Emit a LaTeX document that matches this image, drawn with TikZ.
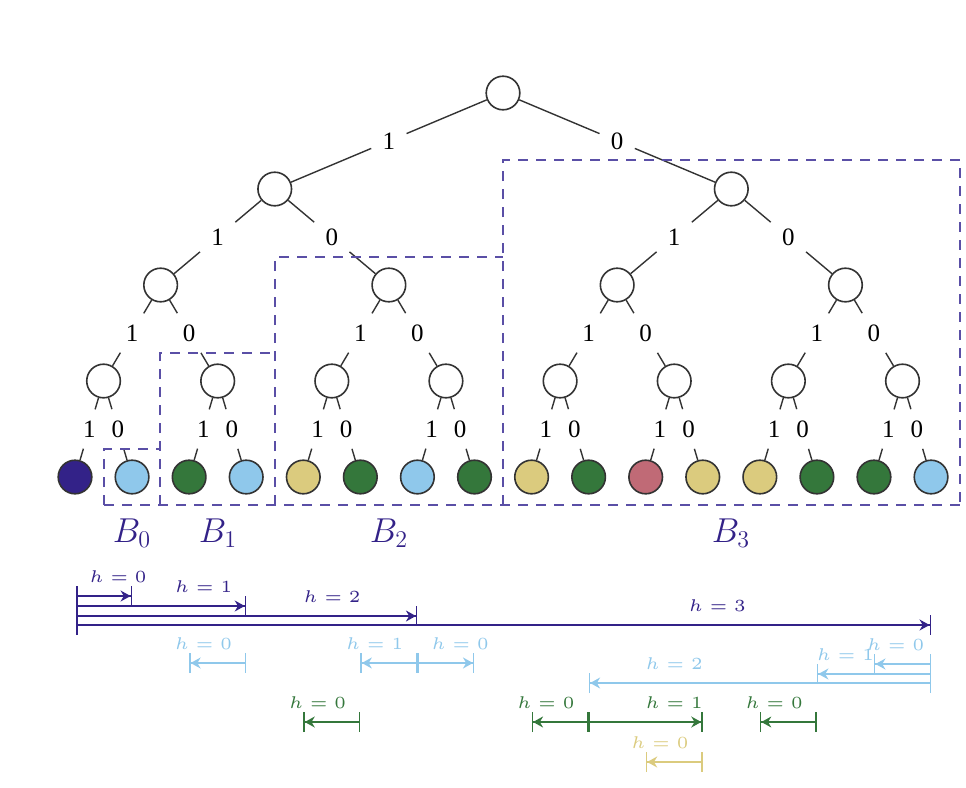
\documentclass[tikz,border=0pt]{standalone}
\usepackage{fontspec}
\newfontfamily\digitfont{Liberation Serif}
\usetikzlibrary{arrows.meta,calc}
\definecolor{cindigo}{HTML}{332288}
\definecolor{ccyan}{HTML}{8FC8EB}
\definecolor{cgreen}{HTML}{34773B}
\definecolor{csand}{HTML}{DBCB7E}
\definecolor{crose}{HTML}{C06A76}
\definecolor{cbox}{HTML}{5A4FA6}
\definecolor{cline}{HTML}{333333}
\begin{document}
\begin{tikzpicture}[x=0.5pt,y=-0.5pt,
  tnode/.style={circle,draw=cline,line width=0.8pt,minimum size=16.8pt,inner sep=0pt,fill=white},
  leafnode/.style={tnode,fill=#1},
  elabel/.style={inner sep=5.5pt,font=\digitfont\fontsize{12.5}{15}\selectfont},
  tedge/.style={line width=0.7pt,draw=cline},
  region/.style={draw=cbox,line width=0.75pt,dash pattern=on 5pt off 4pt},
  blabel/.style={text=cindigo,font=\fontsize{16.5}{19}\selectfont},
  harr/.style={line width=0.75pt,draw=#1,{Bar[width=10pt]}-{Stealth[length=5pt,width=5.5pt]Bar[width=10pt]}},
  hlab/.style={text=#1,font=\fontsize{5}{6}\selectfont,scale=1.7,inner sep=0pt},
]
\useasboundingbox (0,0) rectangle (966,788);

% internal tree nodes
\foreach \lv in {0,1,2,3} {
  \pgfmathtruncatemacro\mycnt{2^\lv-1}
  \pgfmathsetmacro\spn{16/2^\lv}
  \pgfmathsetmacro\yy{93+96*\lv}
  \foreach \kk in {0,...,\mycnt} {
    \pgfmathsetmacro\xx{75+57.07*(\kk*\spn+(\spn-1)/2)}
    \node[tnode] (v\lv-\kk) at (\xx,\yy) {};
  }
}
% leaves
\foreach \kk/\cc in {0/cindigo,1/ccyan,2/cgreen,3/ccyan,4/csand,5/cgreen,6/ccyan,7/cgreen,
                     8/csand,9/cgreen,10/crose,11/csand,12/csand,13/cgreen,14/cgreen,15/ccyan} {
  \node[leafnode=\cc] (v4-\kk) at (75+57.07*\kk,477) {};
}
% edges with labels
\foreach \lv in {0,1,2,3} {
  \pgfmathtruncatemacro\mycnt{2^\lv-1}
  \pgfmathtruncatemacro\nx{\lv+1}
  \foreach \kk in {0,...,\mycnt} {
    \pgfmathtruncatemacro\ca{2*\kk}
    \pgfmathtruncatemacro\cb{2*\kk+1}
    \node[elabel] (e\nx-\ca) at ($(v\lv-\kk)!0.5!(v\nx-\ca)$) {1};
    \node[elabel] (e\nx-\cb) at ($(v\lv-\kk)!0.5!(v\nx-\cb)$) {0};
    \draw[tedge] (v\lv-\kk) -- (e\nx-\ca) (e\nx-\ca) -- (v\nx-\ca);
    \draw[tedge] (v\lv-\kk) -- (e\nx-\cb) (e\nx-\cb) -- (v\nx-\cb);
  }
}

% dashed regions
\draw[region] (104,505) -- (104,449) -- (160,449);
\draw[region] (160,505) -- (160,353) -- (275,353);
\draw[region] (275,505) -- (275,257) -- (503,257);
\draw[region] (503,505) -- (503,160) -- (960,160) -- (960,505);
\draw[region] (104,505) -- (960,505);

\node[blabel] (b0) at (132,533) {$B_0$};
\node[blabel] (b1) at (218,533) {$B_1$};
\node[blabel] (b2) at (389,533) {$B_2$};
\node[blabel] (b3) at (731,533) {$B_3$};

% h arrows, indigo
\draw[harr=cindigo] (76,596) -- (v4-1 |- 0,596) node[pos=.75,yshift=9.5pt,hlab=cindigo] {$h=0$};
\draw[harr=cindigo] (76,606) -- (v4-3 |- 0,606) node[pos=.75,yshift=9.5pt,hlab=cindigo] {$h=1$};
\draw[harr=cindigo] (76,616) -- (v4-6 |- 0,616) node[pos=.75,yshift=9.5pt,hlab=cindigo] {$h=2$};
\draw[harr=cindigo] (76,625) -- (v4-15 |- 0,625) node[pos=.75,yshift=9.5pt,hlab=cindigo] {$h=3$};
% cyan
\draw[harr=ccyan] (v4-3 |- 0,663) -- (v4-2 |- 0,663) node[pos=.75,yshift=9.5pt,hlab=ccyan] {$h=0$};
\draw[harr=ccyan] (v4-6 |- 0,663) -- (v4-5 |- 0,663) node[pos=.75,yshift=9.5pt,hlab=ccyan] {$h=1$};
\draw[harr=ccyan] (v4-6 |- 0,663) -- (v4-7 |- 0,663) node[pos=.75,yshift=9.5pt,hlab=ccyan] {$h=0$};
\draw[harr=ccyan] (v4-15 |- 0,664) -- (v4-14 |- 0,664) node[pos=.62,yshift=9.5pt,hlab=ccyan] {$h=0$};
\draw[harr=ccyan] (v4-15 |- 0,674) -- (v4-13 |- 0,674) node[pos=.75,yshift=9.5pt,hlab=ccyan] {$h=1$};
\draw[harr=ccyan] (v4-15 |- 0,683) -- (v4-9 |- 0,683) node[pos=.75,yshift=9.5pt,hlab=ccyan] {$h=2$};
% green
\draw[harr=cgreen] (v4-5 |- 0,722) -- (v4-4 |- 0,722) node[pos=.75,yshift=9.5pt,hlab=cgreen] {$h=0$};
\draw[harr=cgreen] (v4-9 |- 0,722) -- (v4-8 |- 0,722) node[pos=.75,yshift=9.5pt,hlab=cgreen] {$h=0$};
\draw[harr=cgreen] (v4-9 |- 0,722) -- (v4-11 |- 0,722) node[pos=.75,yshift=9.5pt,hlab=cgreen] {$h=1$};
\draw[harr=cgreen] (v4-13 |- 0,722) -- (v4-12 |- 0,722) node[pos=.75,yshift=9.5pt,hlab=cgreen] {$h=0$};
% sand
\draw[harr=csand] (v4-11 |- 0,762) -- (v4-10 |- 0,762) node[pos=.75,yshift=9.5pt,hlab=csand] {$h=0$};
\end{tikzpicture}
\end{document}
